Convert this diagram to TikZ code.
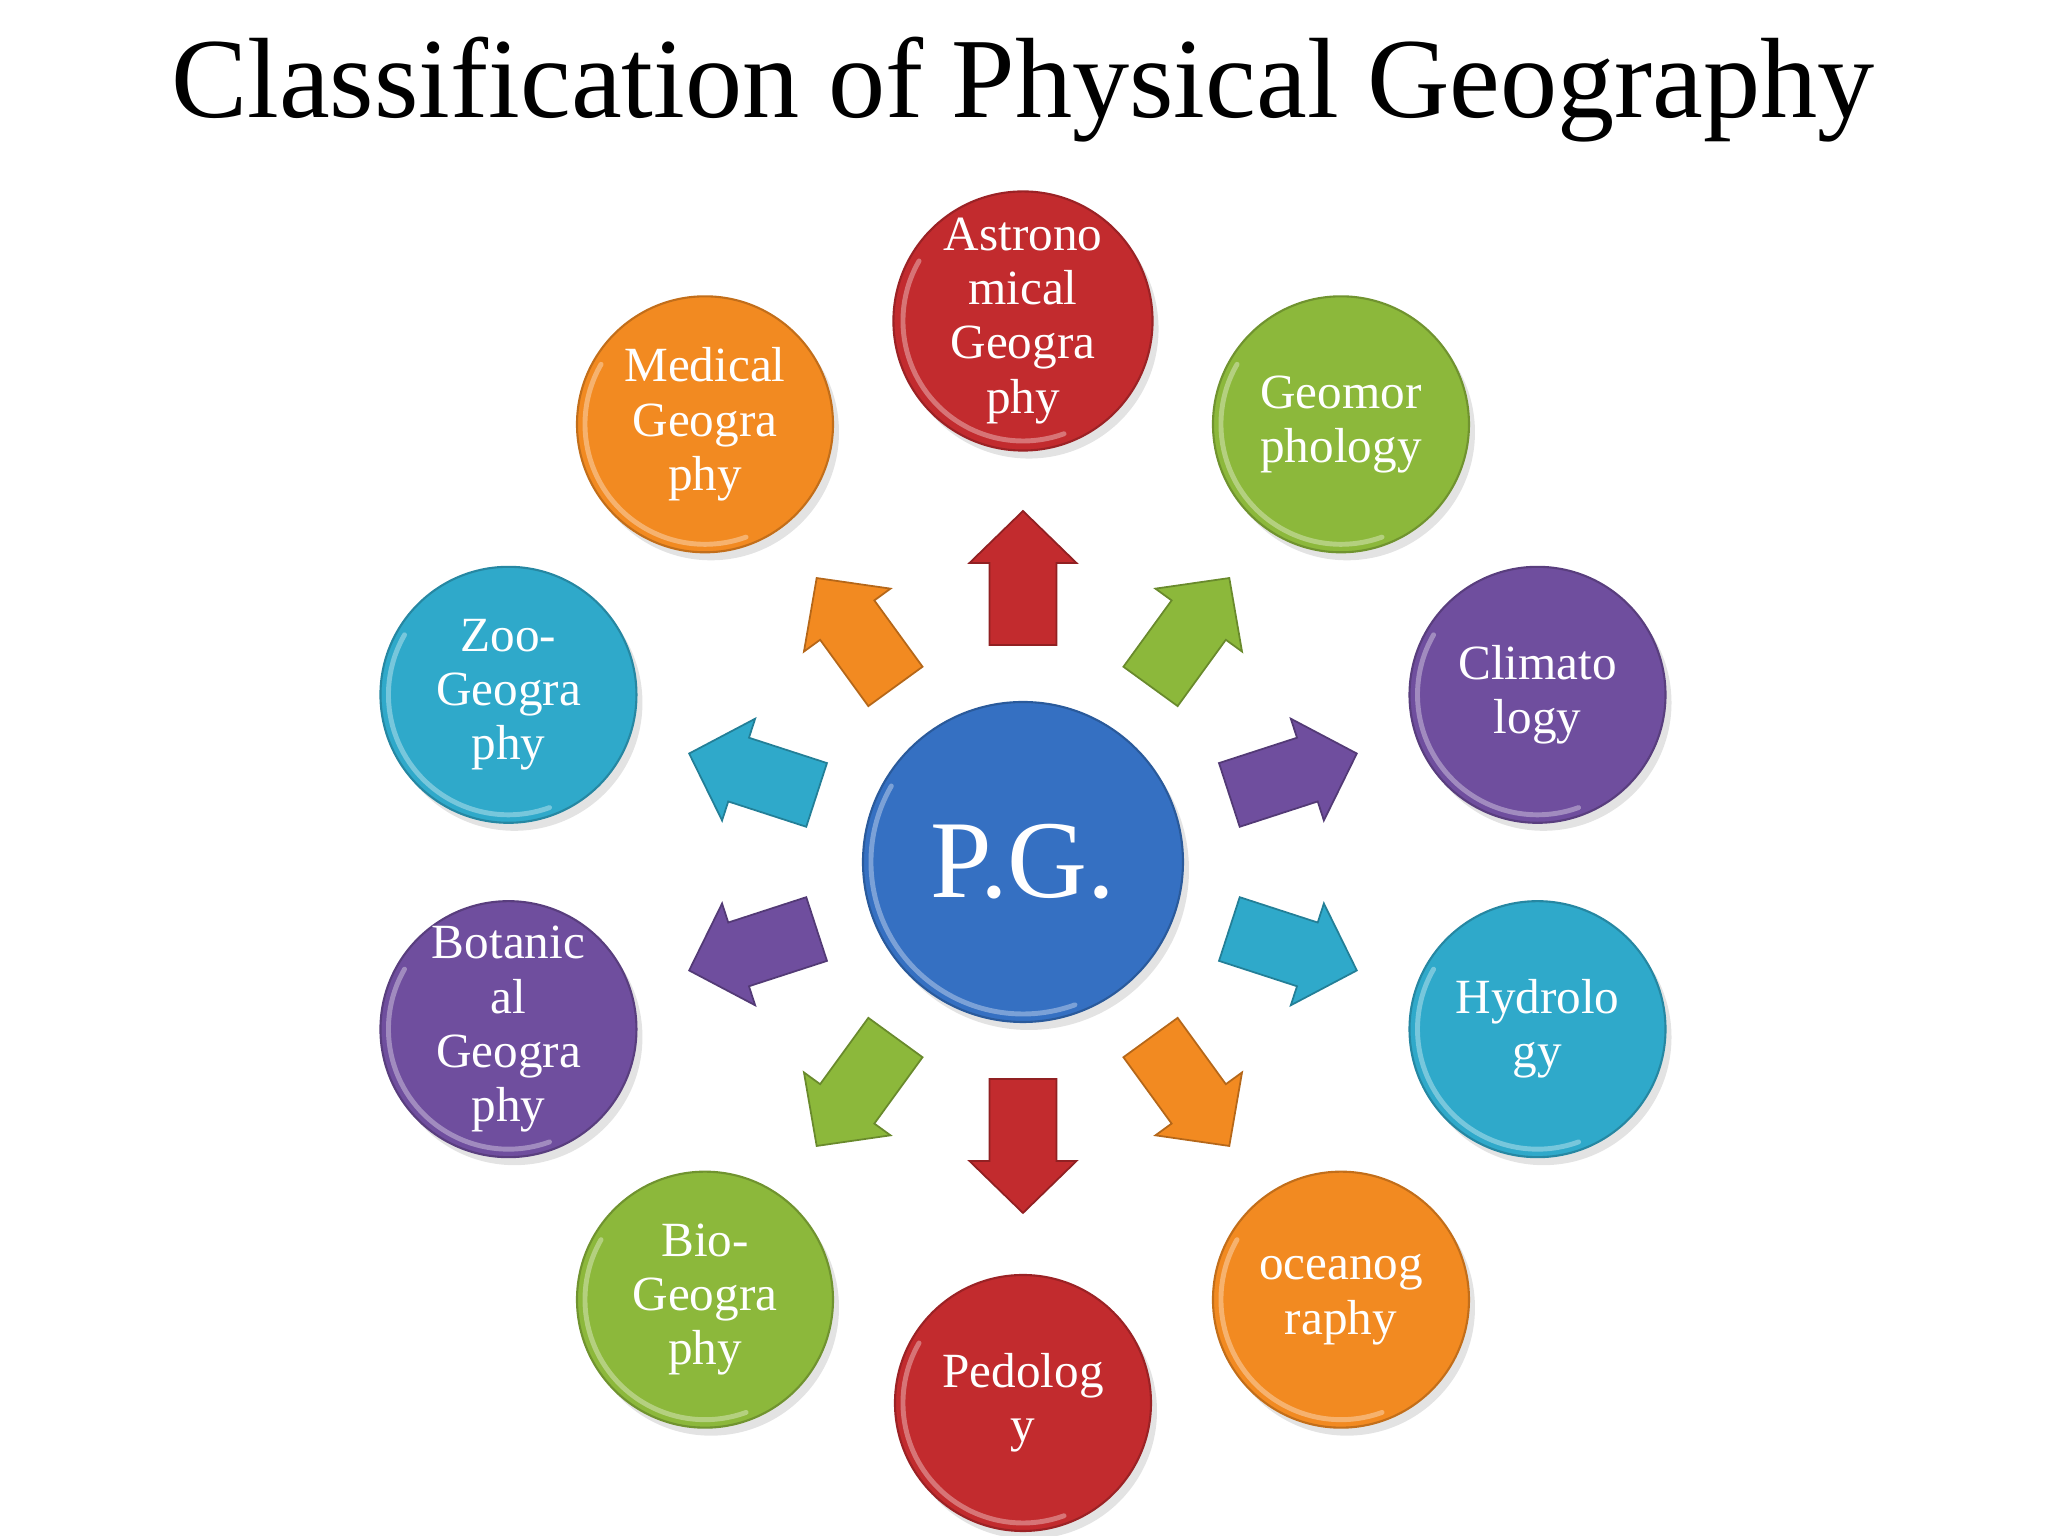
\documentclass[tikz,border=0pt]{standalone}
\usepackage{fontspec}
\setmainfont{Liberation Serif}
\usetikzlibrary{shadows}

\definecolor{geored}{HTML}{C22B2E}
\definecolor{geogreen}{HTML}{8CB83B}
\definecolor{geopurple}{HTML}{6F4E9E}
\definecolor{geocyan}{HTML}{2FA9CA}
\definecolor{geoorange}{HTML}{F28A21}
\definecolor{geoblue}{HTML}{3570C2}

\tikzset{
    button/.style = { circle, fill = #1, draw = #1!80!black, line width = 0.6pt, inner sep = 0pt,
                      text = white, align = center,
                      drop shadow = {opacity=0.22,shadow xshift=0.6mm,shadow yshift=-0.8mm} },
    branch/.style = { button = #1, minimum size = 2.56cm, font = \fontsize{14}{15.4}\selectfont },
    blockarrow/.style = { fill = #1, draw = #1!75!black, line width = 0.5pt, line join = miter },
    rim/.style = { white, opacity = 0.35, line width = 1.4pt, line cap = round }
}

\begin{document}
\begin{tikzpicture}
        \useasboundingbox ( -10.23, -6.74 ) rectangle ( 10.25, 8.62 );

        % заголовок
        \node (title) [ anchor = base, font = \fontsize{32.5}{39}\selectfont ] at ( 0, 7.44 ) {Classification of Physical Geography};

        % центр
        \node (pg) [ button = geoblue, minimum size = 3.2cm, font = \fontsize{31.5}{38}\selectfont ] at ( 0, 0 ) {P.G.};
        \draw [rim] (pg.center) ++ ( 150:1.52 ) arc [ start angle = 150, end angle = 290, radius = 1.52 ];

        % ветви и стрелки
        \foreach \name/\ang/\col/\txt in {
                astro/90/geored/{Astrono\\mical\\Geogra\\phy},
                geomorph/54/geogreen/{Geomor\\phology},
                climat/18/geopurple/{Climato\\logy},
                hydro/-18/geocyan/{Hydrolo\\gy},
                ocean/-54/geoorange/{oceanog\\raphy},
                pedo/-90/geored/{Pedolog\\y},
                bio/-126/geogreen/{Bio-\\Geogra\\phy},
                botan/-162/geopurple/{Botanic\\al\\Geogra\\phy},
                zoo/162/geocyan/{Zoo-\\Geogra\\phy},
                medic/126/geoorange/{Medical\\Geogra\\phy}}
        {
            \node (\name) [ branch = \col ] at ( \ang:5.41 ) {\txt};
            \draw [rim] (\name.center) ++ ( 150:1.2 ) arc [ start angle = 150, end angle = 290, radius = 1.2 ];
            \begin{scope}[ shift = {(pg.center)}, rotate = \ang ]
                \filldraw [ blockarrow = \col ] ( 2.17, -0.335 ) -- ( 2.99, -0.335 ) -- ( 2.99, -0.535 ) -- ( 3.51, 0 )
                    -- ( 2.99, 0.535 ) -- ( 2.99, 0.335 ) -- ( 2.17, 0.335 ) -- cycle;
            \end{scope}
        }
    \end{tikzpicture}
\end{document}
